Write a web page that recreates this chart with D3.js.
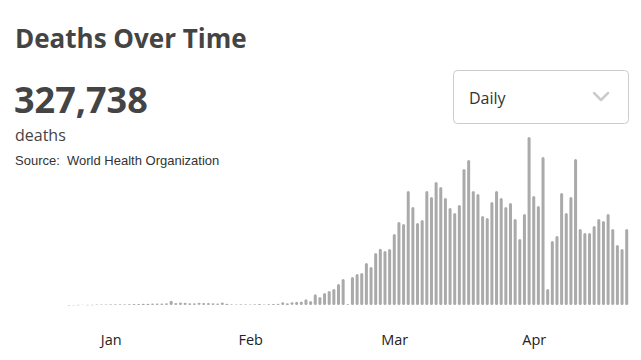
<!DOCTYPE html>
<html>
<head>
<meta charset="utf-8">
<script src="https://cdn.jsdelivr.net/npm/d3@7"></script>
<style>
  html, body { margin: 0; padding: 0; background: #fff; }
  svg { display: block; }
</style>
</head>
<body>
<div id="chart"></div>
<script>
// daily deaths, one value per day starting 21 Jan 2020
const startDate = '2020-01-21';
const dailyDeaths = [
  0, 6, 8, 17, 15, 15, 24, 26, 26, 38, 43,
  46, 45, 57, 64, 66, 73, 73, 86, 89, 97, 108,
  254,
  121, 143, 142, 105, 98, 136, 114, 118, 109, 97, 150, 71, 52, 29, 44, 47, 35,
  42, 64, 37, 55, 67, 80, 160, 100, 165,
  190, 205, 352, 247, 648, 476, 718, 842, 961, 1262, 1558, 55,
  1683, 1857, 1924, 2518, 2281, 3122, 3375, 3236, 3364,
  4262, 4978, 4857, 6843, 5879, 4921, 5104, 6838, 6482, 7376, 7083, 6419, 5822, 5518, 6004, 8163,
  8702, 6845, 6657, 5341, 5218, 6182, 6839, 6417, 5883, 6121, 5158, 3962, 5463, 10078, 6538, 5942, 8884,
  958, 3843, 4137, 6722, 5519, 6484, 8763, 4561, 4318, 4322, 4741, 5163, 5038, 5462, 4557, 3604, 3358, 4563
];
const monthTicks = ['2020-01-30', '2020-02-29', '2020-03-31', '2020-04-30'];
const totalDeaths = 327738;

const width = 641,
  height = 360,
  barWidth = 3,
  barColor = '#aaaaaa',
  textColor = '#444';

const parseDate = d3.timeParse('%Y-%m-%d');
const day0 = parseDate(startDate);
const data = dailyDeaths.map((v, i) => ({ date: d3.timeDay.offset(day0, i), value: v }));

const svg = d3.select('#chart')
  .append('svg')
  .attr('width', width)
  .attr('height', height);

// header texts
svg.append('text')
  .attr('x', 15).attr('y', 48)
  .attr('font-family', 'Open Sans, sans-serif')
  .attr('font-weight', 700)
  .attr('font-size', 26)
  .attr('fill', textColor)
  .text('Deaths Over Time');

svg.append('text')
  .attr('x', 14).attr('y', 113)
  .attr('font-family', 'Open Sans, sans-serif')
  .attr('font-weight', 700)
  .attr('font-size', 36)
  .attr('fill', textColor)
  .text(d3.format(',')(totalDeaths));

svg.append('text')
  .attr('x', 15).attr('y', 141)
  .attr('font-family', 'Open Sans, sans-serif')
  .attr('font-size', 16)
  .attr('fill', textColor)
  .text('deaths');

svg.append('text')
  .attr('x', 15).attr('y', 165)
  .attr('font-family', 'Liberation Sans, Arial, sans-serif')
  .attr('font-size', 13)
  .attr('fill', '#333')
  .attr('xml:space', 'preserve')
  .text('Source:  World Health Organization');

// dropdown box
const dd = svg.append('g').attr('transform', 'translate(453,70)');
dd.append('rect')
  .attr('x', 0.5).attr('y', 0.5)
  .attr('width', 175).attr('height', 53)
  .attr('rx', 4)
  .attr('fill', '#fff')
  .attr('stroke', '#ccc');
dd.append('text')
  .attr('x', 16).attr('y', 34)
  .attr('font-family', 'Open Sans, sans-serif')
  .attr('font-size', 16)
  .attr('fill', '#333')
  .text('Daily');
dd.append('path')
  .attr('d', 'M141,23 L148,30 L155,23')
  .attr('fill', 'none')
  .attr('stroke', '#ccc')
  .attr('stroke-width', 2.5)
  .attr('stroke-linecap', 'round')
  .attr('stroke-linejoin', 'round');

// scales
const x = d3.scaleTime()
  .domain(d3.extent(data, d => d.date))
  .range([68.9, 626.7]);
const y = d3.scaleLinear()
  .domain([0, d3.max(data, d => d.value)])
  .range([305, 137]);

svg.append('g')
  .selectAll('rect')
  .data(data)
  .enter()
  .append('rect')
  .attr('x', d => x(d.date) - barWidth / 2)
  .attr('y', d => y(d.value))
  .attr('width', barWidth)
  .attr('height', d => Math.max(0.4, y(0) - y(d.value)))
  .attr('rx', 1.5)
  .attr('fill', barColor);

// month labels
const xAxis = d3.axisBottom(x)
  .tickValues(monthTicks.map(parseDate))
  .tickFormat(d3.timeFormat('%b'))
  .tickSize(0)
  .tickPadding(0);
const axisG = svg.append('g')
  .attr('transform', 'translate(0,335)')
  .call(xAxis);
axisG.select('.domain').remove();
axisG.selectAll('text')
  .attr('font-family', 'Open Sans, sans-serif')
  .attr('font-size', 14.5)
  .attr('fill', '#222');
</script>
</body>
</html>
